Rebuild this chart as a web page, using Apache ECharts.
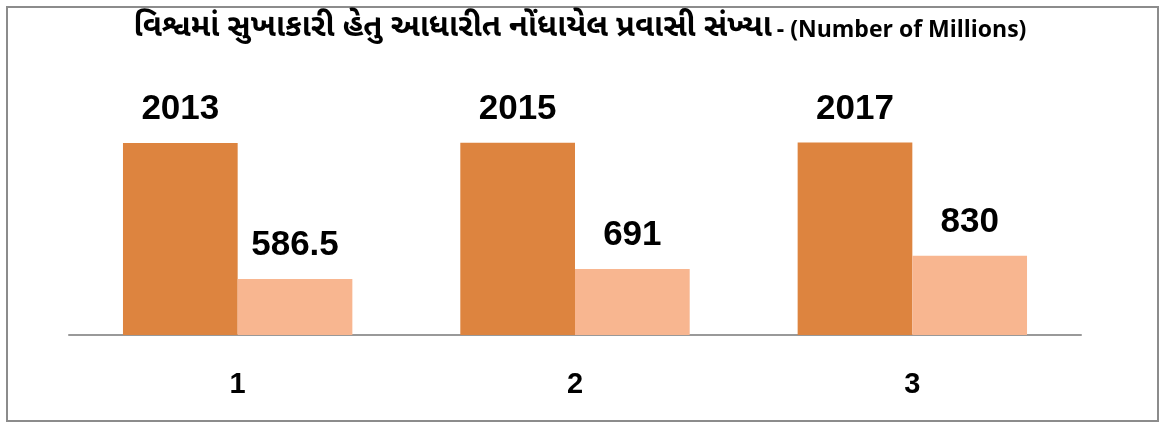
<!DOCTYPE html>
<html>
<head>
<meta charset="utf-8">
<script src="https://cdn.jsdelivr.net/npm/echarts@6/dist/echarts.min.js"></script>
<style>
    html, body { margin: 0; padding: 0; background: #fff; }
    #chart { width: 1160px; height: 423px; }
</style>
</head>
<body>
<div id="chart"></div>
<script>
// categories and values
var categories = ['1', '2', '3'];
var yearValues = [2013, 2015, 2017];
var touristValues = [586.5, 691, 830];

var chart = echarts.init(document.getElementById('chart'));

var labelStyle = {
    show: true,
    position: 'top',
    distance: 16,
    fontSize: 35,
    fontWeight: 'bold',
    color: '#000',
    fontFamily: 'Liberation Sans, Arial, sans-serif'
};

chart.setOption({
    animation: false,
    title: {
        text: '{g|વિશ્વમાં સુખાકારી હેતુ આધારીત નોંધાયેલ પ્રવાસી સંખ્યા} {e|- (Number of Millions)}',
        left: 'center',
        top: 10,
        textStyle: {
            rich: {
                g: { fontSize: 31, fontWeight: 'bold', color: '#000', fontFamily: 'Noto Sans Gujarati, Noto Sans, sans-serif' },
                e: { fontSize: 23, fontWeight: 'bold', color: '#000', fontFamily: 'Open Sans, Noto Sans, sans-serif' }
            }
        }
    },
    graphic: [{
        type: 'rect',
        shape: { x: 7, y: 7, width: 1151, height: 414 },
        style: { fill: 'none', stroke: '#8c8c8c', lineWidth: 2 },
        silent: true
    }],
    grid: {
        left: 69,
        right: 79,
        top: 106,
        bottom: 88
    },
    xAxis: {
        type: 'category',
        data: categories,
        axisLine: { lineStyle: { color: '#999', width: 2 } },
        axisTick: { show: false },
        axisLabel: {
            margin: 35,
            fontSize: 29,
            fontWeight: 'bold',
            color: '#000',
            fontFamily: 'Liberation Sans, Arial, sans-serif'
        }
    },
    yAxis: {
        type: 'value',
        min: 0,
        max: 2400,
        show: false,
        splitLine: { show: false }
    },
    series: [{
        type: 'bar',
        data: yearValues,
        barGap: '0%',
        barCategoryGap: '32%',
        itemStyle: { color: '#dd843f' },
        label: labelStyle
    }, {
        type: 'bar',
        data: touristValues,
        itemStyle: { color: '#f8b690' },
        label: labelStyle
    }]
});
</script>
</body>
</html>
